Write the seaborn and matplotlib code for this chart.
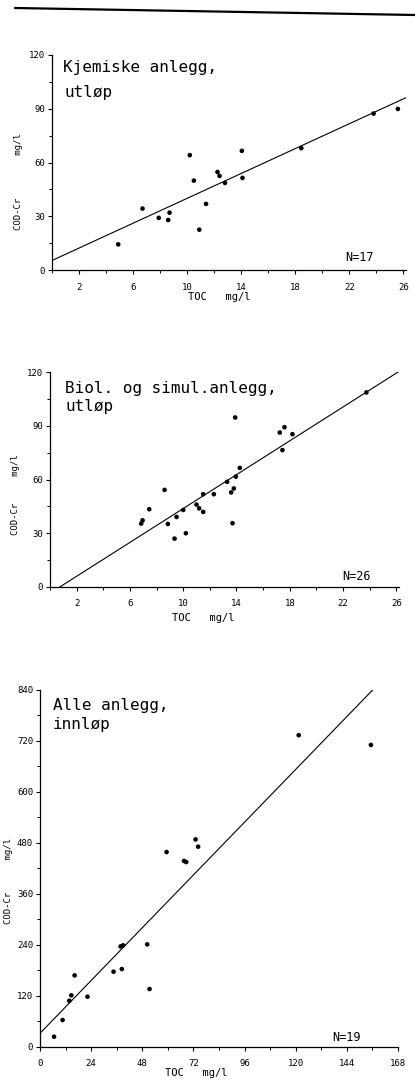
import numpy as np
import matplotlib
matplotlib.use("Agg")
import matplotlib.pyplot as plt
import seaborn as sns
from matplotlib.lines import Line2D
from matplotlib.ticker import FixedLocator, MultipleLocator

# Kjemiske anlegg, utløp (N=17)
kjem_toc = [4.9, 6.7, 7.9, 8.6, 8.7, 10.2, 10.5, 10.9, 11.4, 12.25, 12.4, 12.8, 14.05, 14.1, 18.45, 23.8, 25.6]
kjem_cod = [14.3, 34.3, 29.1, 27.9, 32.0, 64.1, 49.9, 22.5, 36.9, 54.7, 52.5, 48.6, 66.5, 51.4, 68.0, 87.3, 89.9]

# Biol. og simul.anlegg, utløp (N=26)
biol_toc = [6.85, 6.95, 7.45, 8.6, 8.85, 9.35, 9.5, 10.0, 10.2, 11.0, 11.2, 11.5, 11.5, 12.3,
            13.3, 13.6, 13.8, 13.7, 13.95, 14.25, 13.9, 17.25, 17.45, 17.6, 18.2, 23.75]
biol_cod = [35.4, 37.2, 43.4, 54.2, 35.2, 27.0, 39.1, 43.0, 30.0, 46.0, 43.9, 51.8, 41.9, 51.8,
            58.7, 52.8, 55.0, 35.6, 61.6, 66.5, 94.6, 86.2, 76.4, 89.2, 85.3, 108.6]

# Alle anlegg, innløp (N=19)
alle_toc = [6.6, 10.6, 13.75, 14.7, 16.25, 22.3, 34.5, 38.4, 37.8, 39.0, 50.3, 51.4,
            59.4, 67.6, 68.6, 73.0, 74.2, 121.4, 155.3]
alle_cod = [23.5, 62.7, 108, 120.8, 167.8, 117.6, 176.5, 182.7, 236, 238.5, 240.8, 135.7,
            458, 437, 434.5, 487.8, 470.6, 733, 710]

sns.set_style("ticks")
plt.rcParams['font.family'] = ['DejaVu Sans Mono', 'DejaVu Sans']
plt.rcParams['text.color'] = 'black'
plt.rcParams['xtick.color'] = 'black'
plt.rcParams['ytick.color'] = 'black'
plt.rcParams['axes.labelcolor'] = 'black'

fig = plt.figure(figsize=(4.15, 10.8), dpi=100)
W, H = 415.0, 1080.0

# header rule across the top of the page
fig.add_artist(Line2D([15 / W, 1.0], [1 - 8 / H, 1 - 15 / H], color="black", lw=1.6))


def panel(rect, toc, cod, xlim, ylim, xmaj, xmin, ymaj, ymin, lines, n_txt, n_pos,
          ylab, ylab_pos, xlab_pos):
    ax = fig.add_axes(rect)
    sns.scatterplot(x=toc, y=cod, ax=ax, color="black", s=11, edgecolor="none")
    b, a = np.polyfit(toc, cod, 1)
    xs = np.linspace(xlim[0], xlim[1], 50)
    ax.plot(xs, a + b * xs, color="black", lw=0.8)
    ax.set_xlim(*xlim)
    ax.set_ylim(*ylim)
    ax.xaxis.set_major_locator(FixedLocator(xmaj))
    ax.xaxis.set_minor_locator(MultipleLocator(xmin))
    ax.yaxis.set_major_locator(FixedLocator(ymaj))
    ax.yaxis.set_minor_locator(MultipleLocator(ymin))
    ax.tick_params(which="major", length=3, width=0.8, labelsize=6.5, pad=2, color="black")
    ax.tick_params(axis="x", which="major", pad=6)
    ax.tick_params(which="minor", length=2, width=0.7, color="black")
    sns.despine(ax=ax)
    for s in ["left", "bottom"]:
        ax.spines[s].set_color("black")
        ax.spines[s].set_linewidth(0.9)
    for txt, (tx, ty) in lines:
        ax.text(tx, ty, txt, transform=ax.transAxes, fontsize=11.5, va="baseline", ha="left")
    ax.text(n_pos[0], n_pos[1], n_txt, transform=ax.transAxes, fontsize=8.5, va="center", ha="left")
    ax.text(ylab_pos[0], ylab_pos[1], ylab, transform=ax.transAxes, rotation=90,
            fontsize=6.5, va="center", ha="center")
    ax.text(xlab_pos[0], xlab_pos[1], "TOC   mg/l", transform=ax.transAxes,
            fontsize=7.5, va="center", ha="left")
    ax.set_xlabel("")
    ax.set_ylabel("")
    return ax


# panel 1
panel([52 / W, 810 / H, 354 / W, 215 / H], kjem_toc, kjem_cod, (0, 26.2), (0, 120),
      [2, 6, 10, 14, 18, 22, 26], 2, [0, 30, 60, 90, 120], 15,
      [("Kjemiske anlegg,", (0.031, 0.919)), ("utløp", (0.034, 0.805))],
      "N=17", (0.828, 0.056),
      "COD-Cr        mg/l", (-0.096, 0.41), (0.384, -0.126))

# panel 2
panel([50 / W, 493 / H, 349 / W, 215 / H], biol_toc, biol_cod, (0, 26.2), (0, 120),
      [2, 6, 10, 14, 18, 22, 26], 2, [0, 30, 60, 90, 120], 15,
      [("Biol. og simul.anlegg,", (0.043, 0.90)), ("utløp", (0.043, 0.82))],
      "N=26", (0.837, 0.047),
      "COD-Cr     mg/l", (-0.10, 0.43), (0.35, -0.144))

# panel 3
panel([40 / W, 33.3 / H, 358 / W, 357 / H], alle_toc, alle_cod, (0, 168), (0, 840),
      [0, 24, 48, 72, 96, 120, 144, 168], 12, [0, 120, 240, 360, 480, 600, 720, 840], 60,
      [("Alle anlegg,", (0.036, 0.943)), ("innløp", (0.036, 0.890))],
      "N=19", (0.816, 0.027),
      "COD-Cr      mg/l", (-0.087, 0.464), (0.349, -0.074))

fig.savefig("out.png", dpi=100, facecolor="white")
